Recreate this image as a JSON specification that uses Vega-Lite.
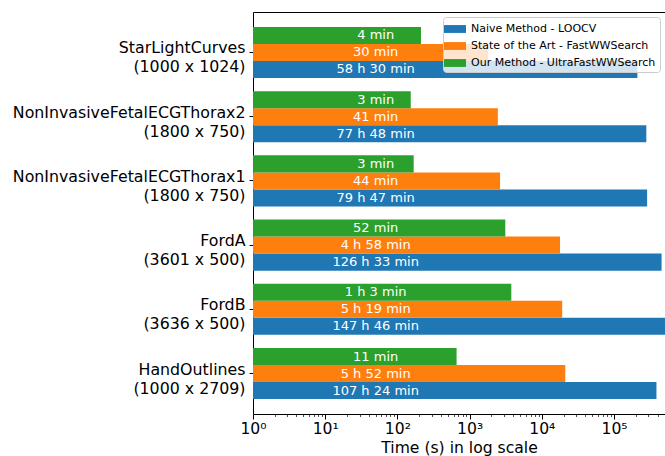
{
  "$schema": "https://vega.github.io/schema/vega-lite/v6.json",
  "width": 412,
  "height": 402,
  "autosize": "none",
  "padding": {"left": 253, "top": 12, "right": 0, "bottom": 42},
  "config": {
    "font": "DejaVu Sans",
    "view": {"stroke": null},
    "axis": {"labelFont": "DejaVu Sans", "titleFont": "DejaVu Sans", "labelColor": "black", "titleColor": "black", "domainColor": "black", "tickColor": "black", "grid": false, "domainWidth": 1},
    "legend": {"labelFont": "DejaVu Sans"}
  },
  "data": {
    "values": [
      {"dataset": "StarLightCurves\n(1000 x 1024)", "method": "Naive Method - LOOCV", "seconds": 210600, "label": "58 h 30 min"},
      {"dataset": "StarLightCurves\n(1000 x 1024)", "method": "State of the Art - FastWWSearch", "seconds": 1800, "label": "30 min"},
      {"dataset": "StarLightCurves\n(1000 x 1024)", "method": "Our Method - UltraFastWWSearch", "seconds": 212, "label": "4 min"},
      {"dataset": "NonInvasiveFetalECGThorax2\n(1800 x 750)", "method": "Naive Method - LOOCV", "seconds": 280080, "label": "77 h 48 min"},
      {"dataset": "NonInvasiveFetalECGThorax2\n(1800 x 750)", "method": "State of the Art - FastWWSearch", "seconds": 2460, "label": "41 min"},
      {"dataset": "NonInvasiveFetalECGThorax2\n(1800 x 750)", "method": "Our Method - UltraFastWWSearch", "seconds": 153, "label": "3 min"},
      {"dataset": "NonInvasiveFetalECGThorax1\n(1800 x 750)", "method": "Naive Method - LOOCV", "seconds": 287220, "label": "79 h 47 min"},
      {"dataset": "NonInvasiveFetalECGThorax1\n(1800 x 750)", "method": "State of the Art - FastWWSearch", "seconds": 2640, "label": "44 min"},
      {"dataset": "NonInvasiveFetalECGThorax1\n(1800 x 750)", "method": "Our Method - UltraFastWWSearch", "seconds": 168, "label": "3 min"},
      {"dataset": "FordA\n(3601 x 500)", "method": "Naive Method - LOOCV", "seconds": 455580, "label": "126 h 33 min"},
      {"dataset": "FordA\n(3601 x 500)", "method": "State of the Art - FastWWSearch", "seconds": 17880, "label": "4 h 58 min"},
      {"dataset": "FordA\n(3601 x 500)", "method": "Our Method - UltraFastWWSearch", "seconds": 3120, "label": "52 min"},
      {"dataset": "FordB\n(3636 x 500)", "method": "Naive Method - LOOCV", "seconds": 531960, "label": "147 h 46 min"},
      {"dataset": "FordB\n(3636 x 500)", "method": "State of the Art - FastWWSearch", "seconds": 19140, "label": "5 h 19 min"},
      {"dataset": "FordB\n(3636 x 500)", "method": "Our Method - UltraFastWWSearch", "seconds": 3780, "label": "1 h 3 min"},
      {"dataset": "HandOutlines\n(1000 x 2709)", "method": "Naive Method - LOOCV", "seconds": 386640, "label": "107 h 24 min"},
      {"dataset": "HandOutlines\n(1000 x 2709)", "method": "State of the Art - FastWWSearch", "seconds": 21120, "label": "5 h 52 min"},
      {"dataset": "HandOutlines\n(1000 x 2709)", "method": "Our Method - UltraFastWWSearch", "seconds": 660, "label": "11 min"}
    ]
  },
  "encoding": {
    "y": {
      "field": "dataset",
      "type": "nominal",
      "sort": ["StarLightCurves\n(1000 x 1024)", "NonInvasiveFetalECGThorax2\n(1800 x 750)", "NonInvasiveFetalECGThorax1\n(1800 x 750)", "FordA\n(3601 x 500)", "FordB\n(3636 x 500)", "HandOutlines\n(1000 x 2709)"],
      "scale": {"paddingInner": 0.205, "paddingOuter": 0.233},
      "axis": {"title": null, "labelExpr": "split(datum.label, '\\n')", "labelFontSize": 15.8, "labelLineHeight": 19, "tickSize": 4, "labelPadding": 4, "labelLimit": 400, "labelBaseline": "middle", "labelOffset": -4}
    },
    "yOffset": {
      "field": "method",
      "type": "nominal",
      "scale": {"domain": ["Our Method - UltraFastWWSearch", "State of the Art - FastWWSearch", "Naive Method - LOOCV"], "paddingInner": 0, "paddingOuter": 0}
    }
  },
  "layer": [
    {
      "mark": {"type": "bar", "clip": true},
      "encoding": {
        "x": {
          "field": "seconds",
          "type": "quantitative",
          "scale": {"type": "log", "domain": [1, 508000], "nice": false},
          "axis": {
            "title": "Time (s) in log scale",
            "titleFontSize": 15.6,
            "titleFontWeight": "normal",
            "titlePadding": 4,
            "values": [1,2,3,4,5,6,7,8,9,10,20,30,40,50,60,70,80,90,100,200,300,400,500,600,700,800,900,1000,2000,3000,4000,5000,6000,7000,8000,9000,10000,20000,30000,40000,50000,60000,70000,80000,90000,100000,200000,300000,400000,500000],
            "labelExpr": "abs(log(datum.value)/LN10 - round(log(datum.value)/LN10)) < 0.000001 ? '10' + ['⁰','¹','²','³','⁴','⁵'][round(log(datum.value)/LN10)] : ''",
            "labelFontSize": 15.6,
            "labelOverlap": false,
            "labelFlush": false,
            "labelBound": false,
            "labelPadding": 2,
            "tickSize": {"condition": {"test": "abs(log(datum.value)/LN10 - round(log(datum.value)/LN10)) < 0.000001", "value": 5}, "value": 2.5},
            "tickWidth": {"condition": {"test": "abs(log(datum.value)/LN10 - round(log(datum.value)/LN10)) < 0.000001", "value": 1}, "value": 0.7}
          }
        },
        "x2": {"datum": 1},
        "color": {
          "field": "method",
          "type": "nominal",
          "scale": {"domain": ["Naive Method - LOOCV", "State of the Art - FastWWSearch", "Our Method - UltraFastWWSearch"], "range": ["#1f77b4", "#ff7f0e", "#2ca02c"]},
          "legend": {
            "title": null,
            "orient": "top-right",
            "offset": 5,
            "labelFontSize": 11,
            "labelLimit": 400,
            "labelColor": "black",
            "symbolType": "M-1.4,-0.5H1.4V0.5H-1.4Z",
            "symbolSize": 247,
            "symbolStrokeWidth": 0,
            "symbolOpacity": 1,
            "fillColor": "rgba(255,255,255,0.8)",
            "strokeColor": "#cccccc",
            "cornerRadius": 3,
            "padding": 4,
            "rowPadding": 4,
            "labelOffset": 8
          }
        }
      }
    },
    {
      "mark": {"type": "text", "color": "white", "fontSize": 13, "baseline": "middle", "align": "center", "font": "DejaVu Sans"},
      "encoding": {
        "x": {"datum": 50, "type": "quantitative", "axis": {"orient": "top", "ticks": false, "labels": false, "title": null, "domain": true}},
        "text": {"field": "label"}
      }
    }
  ],
  "resolve": {"axis": {"x": "independent"}}
}
